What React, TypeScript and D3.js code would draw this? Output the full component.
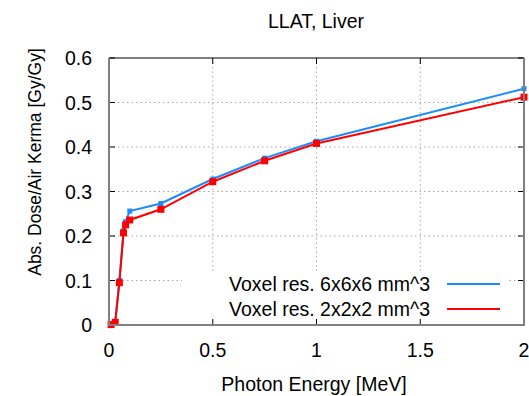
import React, {useRef, useEffect} from "react";
import * as d3 from 'd3';

// Photon energies [MeV]
const energies = [0.01, 0.03, 0.05, 0.07, 0.08, 0.1, 0.25, 0.5, 0.75, 1.0, 2.0];
// Abs. dose / air kerma, 6x6x6 mm^3 voxels
const dose6 = [0.001, 0.006, 0.1, 0.212, 0.232, 0.256, 0.273, 0.328, 0.375, 0.413, 0.531];
// Abs. dose / air kerma, 2x2x2 mm^3 voxels
const dose2 = [0.001, 0.006, 0.095, 0.207, 0.225, 0.236, 0.26, 0.322, 0.369, 0.408, 0.512];

const xTicks = [0, 0.5, 1, 1.5, 2];
const yTicks = [0, 0.1, 0.2, 0.3, 0.4, 0.5, 0.6];
const seriesNames = ["Voxel res. 6x6x6 mm^3", "Voxel res. 2x2x2 mm^3"];
const seriesColors = ["#1a8cff", "#ff0000"];

const App = () => {
    const ref = useRef<SVGSVGElement>(null);

    useEffect(() => {
        const svgWidth = 529
        const svgHeight = 396
        const margin = {top: 58, right: 5, bottom: 71, left: 109};
        const font = "'Liberation Sans', Arial, sans-serif";
        const fontSize = '19.5px';

        const svg = d3.select(ref.current)
            .attr('width', svgWidth)
            .attr('height', svgHeight)
        svg.selectAll('*').remove();

        const x = d3.scaleLinear().domain([0, 2]).range([margin.left, svgWidth - margin.right]);
        const y = d3.scaleLinear().domain([0, 0.6]).range([svgHeight - margin.bottom, margin.top]);
        const [x0, x1] = x.range();
        const [y0, y1] = y.range();

        // grid
        const grid = svg.append('g');
        xTicks.slice(1, -1).forEach(t => {
            grid.append('line')
                .attr('x1', x(t)).attr('x2', x(t)).attr('y1', y0).attr('y2', y1)
                .attr('stroke', '#a8a8a8').attr('stroke-dasharray', '1.5,3');
        });
        yTicks.slice(1, -1).forEach(t => {
            grid.append('line')
                .attr('x1', x0).attr('x2', x1).attr('y1', y(t)).attr('y2', y(t))
                .attr('stroke', '#a8a8a8').attr('stroke-dasharray', '1.5,3');
        });

        // legend background covers the grid
        svg.append('rect')
            .attr('x', 182).attr('y', 271).attr('width', 326).attr('height', y0 - 272)
            .attr('fill', 'white');

        // ticks (inward, all four sides)
        const ticks = svg.append('g').attr('stroke', '#000').attr('stroke-width', 1);
        yTicks.forEach(t => {
            ticks.append('line').attr('x1', x0).attr('x2', x0 + 6).attr('y1', y(t)).attr('y2', y(t));
            ticks.append('line').attr('x1', x1).attr('x2', x1 - 6).attr('y1', y(t)).attr('y2', y(t));
        });
        xTicks.forEach(t => {
            ticks.append('line').attr('x1', x(t)).attr('x2', x(t)).attr('y1', y0).attr('y2', y0 - 6);
            ticks.append('line').attr('x1', x(t)).attr('x2', x(t)).attr('y1', y1).attr('y2', y1 + 6);
        });

        // curves
        const series = [dose6, dose2];
        series.forEach((vals, i) => {
            const pts = energies.map((e, j) => [e, vals[j]] as [number, number]);
            const line = d3.line<[number, number]>().x(d => x(d[0])).y(d => y(d[1]));
            svg.append('path')
                .datum(pts)
                .attr('fill', 'none')
                .attr('stroke', seriesColors[i])
                .attr('stroke-width', 2)
                .attr('d', line);
            const s = i === 0 ? 5 : 7;
            svg.append('g').selectAll('rect')
                .data(pts)
                .enter()
                .append('rect')
                .attr('x', d => x(d[0]) - s / 2)
                .attr('y', d => y(d[1]) - s / 2)
                .attr('width', s)
                .attr('height', s)
                .attr('fill', seriesColors[i]);
        });

        // border
        svg.append('line').attr('x1', x0).attr('x2', x1).attr('y1', y1).attr('y2', y1)
            .attr('stroke', '#000').attr('stroke-width', 1);
        svg.append('path')
            .attr('d', `M${x0},${y1}V${y0}H${x1}V${y1}`)
            .attr('fill', 'none').attr('stroke', '#808080').attr('stroke-width', 2);

        // tick labels
        svg.append('g').selectAll('text')
            .data(yTicks).enter().append('text')
            .attr('x', 92).attr('y', d => y(d)).attr('dy', '0.36em')
            .attr('text-anchor', 'end')
            .style('font-family', font).style('font-size', fontSize)
            .text(d => d === 0 ? '0' : String(d));
        svg.append('g').selectAll('text')
            .data(xTicks).enter().append('text')
            .attr('x', d => x(d)).attr('y', 357)
            .attr('text-anchor', 'middle')
            .style('font-family', font).style('font-size', fontSize)
            .text(d => String(d));

        // legend
        seriesNames.forEach((name, i) => {
            const ly = 284 + i * 25;
            svg.append('text')
                .attr('x', 430).attr('y', ly + 7)
                .attr('text-anchor', 'end')
                .style('font-family', font).style('font-size', fontSize)
                .text(name);
            svg.append('line')
                .attr('x1', 447).attr('x2', 500).attr('y1', ly).attr('y2', ly)
                .attr('stroke', seriesColors[i]).attr('stroke-width', 2);
        });

        // titles
        svg.append('text')
            .attr('x', 316).attr('y', 28)
            .attr('text-anchor', 'middle')
            .style('font-family', font).style('font-size', fontSize)
            .text('LLAT, Liver');
        svg.append('text')
            .attr('x', 314).attr('y', 391)
            .attr('text-anchor', 'middle')
            .style('font-family', font).style('font-size', fontSize)
            .text('Photon Energy [MeV]');
        svg.append('text')
            .attr('transform', 'translate(41,162) rotate(-90)')
            .attr('text-anchor', 'middle')
            .style('font-family', font).style('font-size', '17.5px')
            .text('Abs. Dose/Air Kerma [Gy/Gy]');
    }, []);

    return (
        <svg ref={ref} style={{position: 'absolute', left: 0, top: 0}}></svg>
    )
}

export default App
